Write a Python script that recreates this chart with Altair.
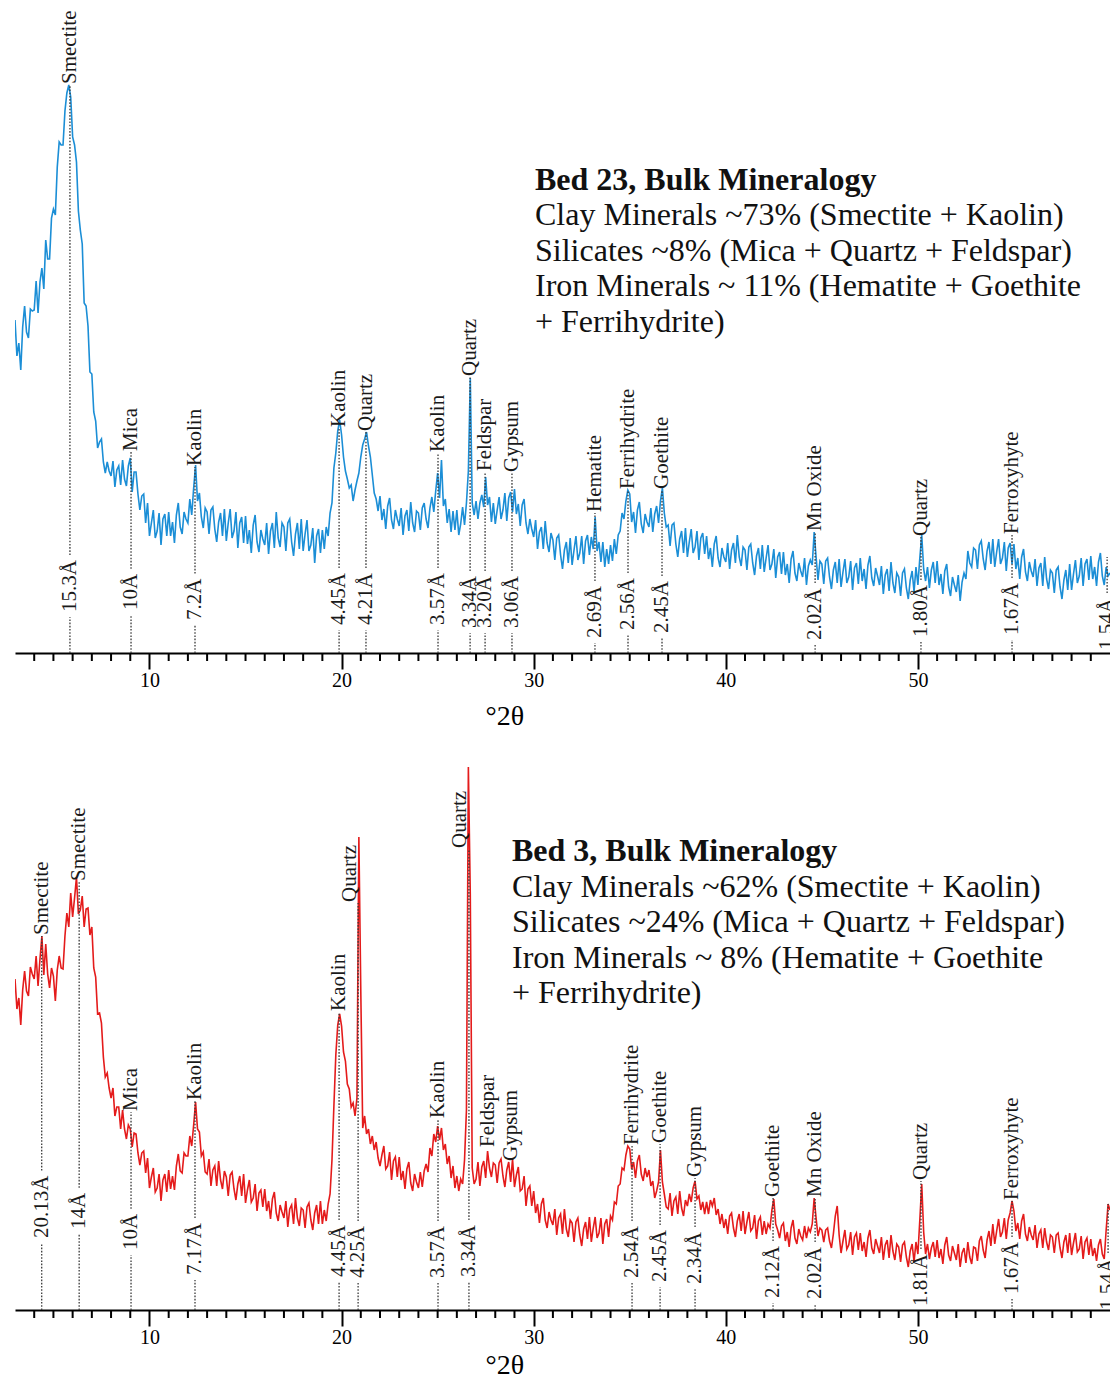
import numpy as np
import pandas as pd
import altair as alt

# ---------------------------------------------------------------------------
# XRD scans (Cu K-alpha), intensity in arbitrary counts, step 0.1 deg 2-theta
# ---------------------------------------------------------------------------
SCAN_START = 3.0
SCAN_STEP = 0.1

bed23_counts = [
    333, 297, 310, 283, 326, 347, 321, 315, 344, 342,   # 3
    343, 372, 340, 371, 385, 364, 413, 394, 394, 435,   # 4
    444, 438, 486, 511, 508, 508, 542, 560, 568, 556,   # 5
    516, 508, 491, 442, 423, 409, 350, 347, 327, 281,   # 6
    279, 241, 232, 205, 211, 214, 191, 180, 191, 182,   # 7
    177, 192, 166, 183, 187, 168, 193, 174, 167, 187,   # 8
    195, 161, 181, 181, 159, 143, 157, 159, 130, 150,   # 9
    117, 130, 143, 115, 122, 140, 108, 134, 139, 117,   # 10
    141, 117, 131, 110, 138, 150, 126, 119, 141, 134,   # 11
    130, 154, 138, 165, 188, 152, 160, 136, 125, 145,   # 12
    141, 119, 143, 146, 124, 111, 131, 140, 117, 144,   # 13
    112, 130, 144, 115, 122, 141, 105, 130, 136, 110,   # 14
    137, 109, 123, 100, 128, 138, 111, 101, 123, 114,   # 15
    108, 130, 99, 122, 130, 105, 141, 115, 106, 130,    # 16
    126, 102, 130, 134, 111, 97, 119, 130, 104, 134,    # 17
    102, 119, 133, 102, 108, 125, 90, 117, 124, 100,    # 18
    123, 104, 126, 117, 140, 150, 185, 200, 222, 233,   # 19
    218, 196, 182, 174, 165, 168, 152, 163, 172, 180,   # 20
    196, 208, 214, 221, 207, 196, 178, 160, 154, 142,   # 21
    157, 133, 144, 124, 147, 155, 133, 124, 143, 134,   # 22
    127, 145, 118, 137, 143, 122, 151, 130, 121, 142,   # 23
    140, 123, 145, 150, 134, 125, 145, 156, 141, 162,   # 24
    180, 155, 193, 147, 154, 130, 144, 121, 142, 123,   # 25
    143, 118, 129, 146, 128, 150, 182, 275, 150, 138,   # 26
    152, 134, 150, 158, 146, 176, 148, 156, 131, 150,   # 27
    129, 143, 156, 134, 143, 160, 132, 155, 161, 141,   # 28
    164, 139, 149, 127, 148, 154, 130, 119, 134, 124,   # 29
    116, 133, 104, 121, 126, 104, 132, 110, 101, 120,   # 30
    113, 93, 115, 118, 98, 84, 103, 111, 90, 115,       # 31
    88, 103, 117, 93, 100, 117, 89, 112, 118, 98,       # 32
    116, 104, 136, 102, 111, 91, 111, 86, 104, 89,      # 33
    108, 92, 114, 99, 118, 122, 140, 134, 152, 163,     # 34
    159, 131, 141, 120, 143, 151, 129, 120, 139, 131,   # 35
    126, 145, 121, 139, 147, 130, 152, 165, 140, 126,   # 36
    128, 107, 128, 130, 109, 96, 114, 122, 100, 125,    # 37
    96, 111, 124, 100, 106, 122, 93, 115, 120, 99,      # 38
    117, 94, 105, 86, 109, 117, 95, 86, 105, 96,        # 39
    91, 110, 84, 103, 110, 90, 118, 96, 87, 106,        # 40
    103, 83, 106, 109, 90, 78, 97, 105, 84, 108,        # 41
    81, 95, 108, 83, 89, 104, 75, 96, 101, 79,          # 42
    101, 78, 89, 70, 94, 102, 80, 72, 90, 82,           # 43
    76, 95, 68, 87, 93, 88, 121, 96, 73, 92,            # 44
    89, 69, 92, 95, 76, 64, 83, 91, 70, 94,             # 45
    66, 81, 94, 70, 76, 92, 63, 85, 90, 69,             # 46
    95, 72, 84, 64, 88, 97, 75, 67, 85, 77,             # 47
    68, 87, 59, 78, 84, 62, 91, 70, 60, 80,             # 48
    76, 57, 80, 84, 65, 54, 73, 82, 61, 86,             # 49
    68, 95, 118, 84, 72, 86, 65, 83, 91, 70,            # 50
    92, 68, 79, 59, 82, 89, 66, 57, 76, 68,             # 51
    61, 78, 52, 71, 80, 74, 102, 90, 86, 105,           # 52
    103, 84, 108, 112, 94, 83, 102, 111, 89, 114,       # 53
    86, 101, 114, 89, 95, 111, 82, 105, 110, 89,        # 54
    109, 84, 95, 74, 96, 104, 81, 72, 91, 82,           # 55
    76, 94, 67, 85, 90, 67, 96, 74, 64, 83,             # 56
    80, 60, 83, 86, 66, 54, 73, 83, 63, 89,             # 57
    63, 79, 93, 70, 77, 95, 67, 89, 94, 73,             # 58
    97, 74, 86, 67, 91, 100, 77, 68, 86, 77,            # 59
    80,                                                 # 60
]

bed3_counts = [
    331, 301, 312, 285, 320, 339, 319, 314, 343, 336,   # 3
    331, 354, 324, 351, 374, 335, 366, 336, 322, 342,   # 4
    334, 309, 340, 354, 342, 341, 374, 397, 383, 417,   # 5
    393, 412, 433, 396, 400, 414, 383, 401, 402, 375,   # 6
    383, 342, 333, 296, 297, 287, 253, 233, 237, 222,   # 7
    212, 222, 194, 203, 203, 181, 200, 181, 171, 185,   # 8
    181, 163, 177, 176, 157, 145, 157, 159, 137, 152,   # 9
    122, 133, 142, 118, 122, 136, 109, 130, 136, 118,   # 10
    140, 121, 134, 120, 144, 156, 139, 137, 157, 154,   # 11
    154, 174, 164, 185, 208, 181, 178, 154, 158, 138,   # 12
    136, 151, 124, 140, 144, 124, 149, 130, 121, 139,   # 13
    133, 114, 135, 138, 121, 110, 126, 134, 114, 136,   # 14
    107, 120, 130, 108, 112, 126, 99, 117, 120, 103,    # 15
    121, 99, 109, 91, 111, 118, 97, 89, 105, 98,        # 16
    92, 109, 83, 101, 105, 86, 112, 92, 84, 102,        # 17
    100, 82, 103, 107, 90, 80, 97, 105, 86, 109,        # 18
    86, 100, 89, 106, 116, 150, 204, 255, 285, 296,     # 19
    284, 258, 249, 226, 221, 203, 207, 194, 212, 473,   # 20
    319, 182, 194, 176, 181, 166, 174, 160, 168, 152,   # 21
    144, 155, 164, 141, 144, 158, 130, 149, 153, 133,   # 22
    153, 130, 139, 121, 141, 148, 127, 119, 136, 128,   # 23
    122, 138, 123, 139, 146, 138, 162, 154, 176, 168,   # 24
    184, 170, 182, 160, 166, 146, 154, 132, 144, 122,   # 25
    134, 119, 131, 126, 150, 200, 543, 415, 142, 126,   # 26
    131, 148, 124, 143, 149, 132, 159, 142, 133, 147,   # 27
    145, 127, 147, 151, 134, 123, 140, 148, 128, 151,   # 28
    123, 135, 143, 119, 121, 134, 104, 121, 124, 104,   # 29
    119, 97, 106, 87, 106, 112, 90, 82, 98, 90,         # 30
    85, 101, 75, 92, 96, 76, 101, 81, 73, 90,           # 31
    87, 68, 88, 92, 75, 64, 81, 88, 71, 93,             # 32
    68, 82, 93, 72, 77, 92, 66, 86, 91, 73,             # 33
    94, 90, 108, 106, 124, 126, 142, 140, 155, 164,     # 34
    161, 141, 148, 132, 149, 155, 136, 129, 142, 133,   # 35
    140, 124, 129, 112, 119, 128, 160, 128, 116, 103,   # 36
    101, 117, 94, 109, 113, 96, 119, 102, 94, 110,      # 37
    104, 116, 108, 122, 129, 111, 114, 100, 108, 96,    # 38
    108, 96, 110, 104, 112, 95, 101, 86, 96, 82,        # 39
    91, 76, 94, 97, 82, 73, 89, 96, 79, 99,             # 40
    76, 88, 98, 79, 82, 95, 71, 89, 93, 75,             # 41
    89, 76, 86, 82, 100, 111, 86, 80, 72, 84,           # 42
    87, 69, 78, 63, 82, 90, 72, 66, 81, 74,             # 43
    70, 84, 72, 82, 78, 86, 112, 92, 74, 82,            # 44
    80, 68, 80, 82, 69, 62, 76, 94, 104, 75,            # 45
    57, 69, 80, 61, 65, 78, 55, 73, 77, 60,             # 46
    77, 59, 68, 53, 72, 80, 62, 56, 71, 64,             # 47
    57, 73, 50, 65, 70, 52, 75, 59, 50, 66,             # 48
    63, 48, 65, 68, 53, 43, 59, 66, 48, 68,             # 49
    56, 90, 126, 78, 56, 66, 51, 62, 68, 53,            # 50
    70, 52, 61, 46, 65, 73, 55, 49, 64, 57,             # 51
    50, 66, 43, 57, 62, 47, 68, 53, 46, 63,             # 52
    62, 49, 69, 74, 60, 52, 70, 79, 64, 86,             # 53
    66, 79, 91, 73, 78, 92, 71, 90, 97, 109,            # 54
    99, 79, 87, 71, 89, 96, 76, 69, 83, 75,             # 55
    70, 85, 62, 76, 80, 62, 82, 68, 60, 75,             # 56
    73, 57, 75, 77, 62, 52, 68, 75, 57, 77,             # 57
    55, 67, 77, 58, 61, 74, 51, 68, 72, 55,             # 58
    71, 54, 62, 49, 65, 71, 56, 51, 80, 106,            # 59
    100,                                                # 60
]

# ---------------------------------------------------------------------------
# Peak identifications: position (deg 2-theta), mineral, d-spacing
# ---------------------------------------------------------------------------
bed23_peak_pos = [5.86, 9.04, 12.37, 19.87, 21.27, 25.02, 26.69, 27.47, 28.87,
                  33.19, 34.91, 36.68, 44.65, 50.16, 54.90, 59.85]
bed23_minerals = ["Smectite", "Mica", "Kaolin", "Kaolin", "Quartz", "Kaolin",
                  "Quartz", "Feldspar", "Gypsum", "Hematite", "Ferrihydrite",
                  "Goethite", "Mn Oxide", "Quartz", "Ferroxyhyte", ""]
bed23_dspacing = ["15.3Å", "10Å", "7.2Å", "4.45Å", "4.21Å", "3.57Å", "3.34Å",
                  "3.20Å", "3.06Å", "2.69Å", "2.56Å", "2.45Å", "2.02Å", "1.80Å",
                  "1.67Å", "1.54Å"]

bed3_peak_pos = [4.39, 6.34, 9.04, 12.37, 19.87, 20.86, 25.02, 26.63, 27.60,
                 28.80, 35.12, 36.58, 38.40, 42.46, 44.65, 50.16, 54.90, 59.90]
bed3_minerals = ["Smectite", "Smectite", "Mica", "Kaolin", "Kaolin", "Quartz",
                 "Kaolin", "Quartz", "Feldspar", "Gypsum", "Ferrihydrite",
                 "Goethite", "Gypsum", "Goethite", "Mn Oxide", "Quartz",
                 "Ferroxyhyte", ""]
bed3_dspacing = ["20.13Å", "14Å", "10Å", "7.17Å", "4.45Å", "4.25Å", "3.57Å",
                 "3.34Å", "", "", "2.54Å", "2.45Å", "2.34Å", "2.12Å", "2.02Å",
                 "1.81Å", "1.67Å", "1.54Å"]

# Annotation placement (counts): foot of the mineral name, foot of the d label
bed23_name_at = [568, 201, 186, 225, 221, 200, 276, 181, 180, 140, 163, 163,
                 121, 116, 118, 96]
bed23_d_at = [41, 43, 33, 28, 28, 28, 25, 25, 25, 15, 23, 20, 13, 16, 18, 3]
bed3_name_pos = [4.39, 6.34, 9.04, 12.37, 19.87, 20.45, 25.02, 26.15, 27.60,
                 28.80, 35.12, 36.58, 38.40, 42.46, 44.65, 50.16, 54.90, 59.90]
bed3_name_at = [374, 428, 198, 209, 298, 407, 191, 461, 162, 148, 164, 166,
                132, 112, 112, 129, 109, 106]
bed3_d_at = [72, 81, 60, 35, 33, 32, 32, 33, 0, 0, 32, 28, 26, 12, 11, 4, 16, 0]

bed23_summary = ["Bed 23, Bulk Mineralogy",
                 "Clay Minerals ~73% (Smectite + Kaolin)",
                 "Silicates ~8% (Mica + Quartz + Feldspar)",
                 "Iron Minerals ~ 11% (Hematite + Goethite",
                 "\u2002+ Ferrihydrite)"]
bed3_summary = ["Bed 3, Bulk Mineralogy",
                "Clay Minerals ~62% (Smectite + Kaolin)",
                "Silicates ~24% (Mica + Quartz + Feldspar)",
                "Iron Minerals ~ 8% (Hematite + Goethite",
                "+ Ferrihydrite)"]

major_ticks = [10, 20, 30, 40, 50]
minor_ticks = [t for t in range(4, 60) if t % 10]
AXIS_TITLE = "°2θ"
AXIS_TITLE_AT = 28.5

FONT = "Liberation Serif"
LABEL_SIZE = 21
SUMMARY_SIZE = 32
PANEL_W = 1095

two_theta = np.round(SCAN_START + SCAN_STEP * np.arange(len(bed23_counts)), 1)
x_scale = alt.Scale(domain=[3, 60], nice=False, zero=False)

# one shared bottom axis: every layer carries the same definition so the
# layered panel merges them into a single axis
x_axis = alt.Axis(
    values=major_ticks, format="d", tickSize=16, tickWidth=2,
    tickColor="black", domainColor="black", domainWidth=2,
    labelFont=FONT, labelFontSize=20, labelColor="black", labelPadding=1,
    grid=False, title=None,
)

# glyph advance (em) of the characters used in d-spacing labels
ADV = {".": 0.25, "Å": 0.722}


def text_len(s):
    return sum(ADV.get(c, 0.5) for c in s) * LABEL_SIZE


def annotations(pos, name_pos, names, name_at, dlabels, d_at):
    rows, segs = [], []
    for p, npos, n, na, d, da in zip(pos, name_pos, names, name_at, dlabels, d_at):
        rows.append({"pos": p, "npos": npos, "name": n, "name_at": na,
                     "d": d, "d_at": da})
        if d:
            top = da + text_len(d) + 5
            segs.append({"pos": p, "lo": top, "hi": na})
            if da - 5 > 0:
                segs.append({"pos": p, "lo": 0, "hi": da - 5})
    return pd.DataFrame(rows), pd.DataFrame(segs)


def X(field):
    return alt.X(field, type="quantitative", scale=x_scale, axis=x_axis)


def panel(counts, color, ann, segs, summary, sum_x, sum_y, plot_h, title_y):
    y_scale = alt.Scale(domain=[0, plot_h], nice=False, zero=False)
    y_none = dict(scale=y_scale, axis=None)

    trace = pd.DataFrame({"two_theta": two_theta, "counts": counts})
    line = alt.Chart(trace).mark_line(color=color, strokeWidth=1.6, clip=True).encode(
        x=X("two_theta"),
        y=alt.Y("counts:Q", **y_none),
    )

    minor = alt.Chart(pd.DataFrame({"t": minor_ticks})).mark_rule(
        color="black", strokeWidth=2
    ).encode(
        x=X("t"),
        y=alt.value(plot_h),
        y2=alt.value(plot_h + 8),
    )

    x_title = alt.Chart(pd.DataFrame({"x": [AXIS_TITLE_AT], "t": [AXIS_TITLE]})).mark_text(
        font=FONT, fontSize=28, color="black", baseline="middle", align="center"
    ).encode(
        x=X("x"),
        y=alt.value(plot_h + title_y),
        text="t:N",
    )

    dots = alt.Chart(segs).mark_rule(
        color="#3a3a3a", strokeWidth=1.3, strokeDash=[1.6, 1.6], clip=True
    ).encode(
        x=X("pos"),
        y=alt.Y("lo:Q", **y_none),
        y2="hi:Q",
    )

    names = alt.Chart(ann).mark_text(
        angle=270, align="left", baseline="middle", font=FONT,
        fontSize=LABEL_SIZE, color="#1a1a1a", dx=1, clip=True
    ).encode(
        x=X("npos"),
        y=alt.Y("name_at:Q", **y_none),
        text="name:N",
    )

    dlabels = alt.Chart(ann).mark_text(
        angle=270, align="left", baseline="middle", font=FONT,
        fontSize=LABEL_SIZE, color="#1a1a1a", clip=True
    ).encode(
        x=X("pos"),
        y=alt.Y("d_at:Q", **y_none),
        text="d:N",
    )

    block = pd.DataFrame({"x": [sum_x] * len(summary), "y": sum_y,
                          "text": summary, "bold": [True] + [False] * (len(summary) - 1)})
    heading = alt.Chart(block).transform_filter("datum.bold").mark_text(
        align="left", baseline="middle", font=FONT, fontSize=SUMMARY_SIZE,
        fontWeight="bold", color="#111111", clip=True
    ).encode(x=X("x"), y=alt.Y("y:Q", **y_none), text="text:N")
    body = alt.Chart(block).transform_filter("!datum.bold").mark_text(
        align="left", baseline="middle", font=FONT, fontSize=SUMMARY_SIZE,
        color="#111111", clip=True
    ).encode(x=X("x"), y=alt.Y("y:Q", **y_none), text="text:N")

    return alt.layer(line, minor, x_title, dots, names, dlabels, heading, body).properties(
        width=PANEL_W, height=plot_h
    )


ann23, seg23 = annotations(bed23_peak_pos, bed23_peak_pos, bed23_minerals,
                           bed23_name_at, bed23_dspacing, bed23_d_at)
ann3, seg3 = annotations(bed3_peak_pos, bed3_name_pos, bed3_minerals,
                         bed3_name_at, bed3_dspacing, bed3_d_at)

top = panel(bed23_counts, "#1b8ed6", ann23, seg23, bed23_summary, 30.07,
            [473, 438, 402, 367, 331], 653, 64)
bottom = panel(bed3_counts, "#e41b1b", ann3, seg3, bed3_summary, 28.87,
               [459, 423, 388, 352, 317], 563, 56)

chart = alt.vconcat(top, bottom, spacing=16).configure_view(
    stroke=None
).properties(
    padding={"left": 15, "top": 0, "right": 0, "bottom": 0},
    background="white",
)

chart.save("out.html", embed_options={"renderer": "svg", "actions": False})
